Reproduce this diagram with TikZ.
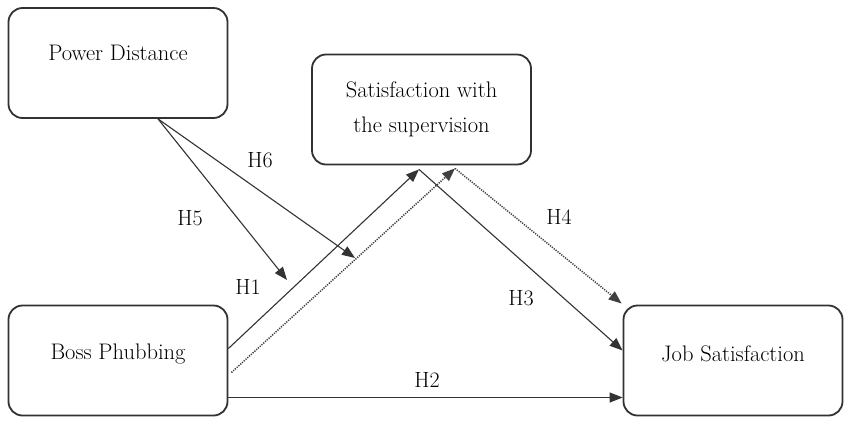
\documentclass[tikz,border=0pt]{standalone}
\usetikzlibrary{calc,arrows.meta}
\begin{document}
\begin{tikzpicture}[x=1pt,y=-1pt,
  box/.style={draw=black!85!cyan!60!black, line width=1.8pt, rounded corners=14pt,
    minimum width=219pt, minimum height=110pt, inner sep=0pt},
  boxtext/.style={font=\fontsize{22.5}{35}\selectfont, align=center},
  arr/.style={draw=black!80, line width=1.1pt, -{Triangle[length=13pt,width=10pt]}},
  dotarr/.style={arr, draw=black!75, line width=1.5pt, dash pattern=on 1.2pt off 1.2pt},
  hlab/.style={font=\fontsize{22}{24}\selectfont}]
\useasboundingbox (0,0) rectangle (851,424);
\fill[white] (0,0) rectangle (851,424);

\node[box, label={[boxtext, yshift=10pt]center:Power Distance}] (pd) at (118,63) {};
\node[box, boxtext] (sat) at (421.5,109.5) {Satisfaction with\\the supervision};
\node[box, label={[boxtext, yshift=7pt]center:Boss Phubbing}] (bp) at (118,360.5) {};
\node[box, label={[boxtext, yshift=7pt]center:Job Satisfaction}] (js) at (733,360.5) {};

\coordinate (t5) at (287,280);
\coordinate (t6) at (355,258);

% H5, H6
\draw[arr] ($(pd.south)+(40,0)$) -- (t5);
\draw[arr] ($(pd.south)+(40,0)$) -- (t6);
% H1 and dotted
\draw[arr] ($(bp.east)+(0,-12)$) -- ($(sat.south)+(-2.5,4)$);
\draw[dotarr] ($(bp.east)+(3,12)$) -- ($(sat.south)+(33.5,3)$);
% H3, H4
\draw[arr] ($(sat.south)+(-2.5,4)$) -- ($(js.west)+(0,-10)$);
\draw[dotarr] ($(sat.south)+(33.5,3)$) -- ($(js.west)+(-1,-57)$);
% H2
\draw[arr] ($(bp.east)+(0,37)$) -- ($(js.west)+(0,37)$);

\node[hlab] (h6) at (260,160) {H6};
\node[hlab] (h5) at (190,218) {H5};
\node[hlab] (h1) at (248,287) {H1};
\node[hlab] (h4) at (559,217) {H4};
\node[hlab] (h3) at (521,298) {H3};
\node[hlab] (h2) at (427,380) {H2};
\end{tikzpicture}
\end{document}
